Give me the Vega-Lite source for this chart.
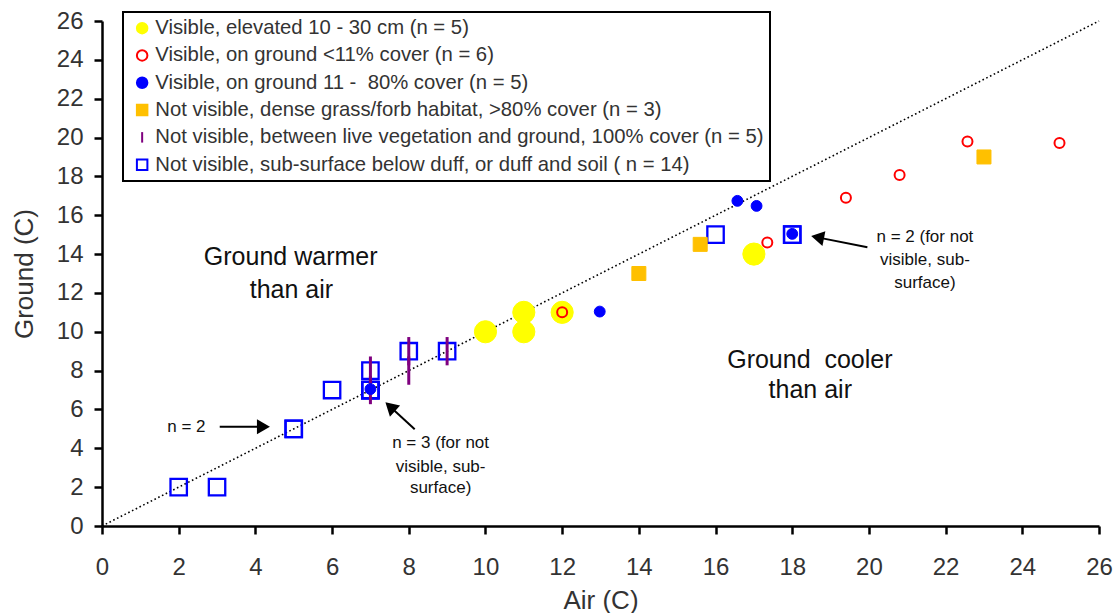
{
  "$schema": "https://vega.github.io/schema/vega-lite/v6.json",
  "width": 997,
  "height": 505,
  "autosize": {"type": "none"},
  "padding": {"left": 102, "top": 21, "right": 21, "bottom": 87},
  "background": "white",
  "config": {
    "view": {"stroke": null},
    "font": "Liberation Sans",
    "legend": {"strokeColor": "black", "strokeWidth": 2, "fillColor": "white"}
  },
  "datasets": {
    "points": [
      {"air": 2, "ground": 2, "group": "F"},
      {"air": 3, "ground": 2, "group": "F"},
      {"air": 5, "ground": 5, "group": "F"},
      {"air": 5, "ground": 5, "group": "F"},
      {"air": 6, "ground": 7, "group": "F"},
      {"air": 7, "ground": 7, "group": "F"},
      {"air": 7, "ground": 7, "group": "F"},
      {"air": 7, "ground": 7, "group": "F"},
      {"air": 7, "ground": 8, "group": "F"},
      {"air": 8, "ground": 9, "group": "F"},
      {"air": 9, "ground": 9, "group": "F"},
      {"air": 16, "ground": 15, "group": "F"},
      {"air": 18, "ground": 15, "group": "F"},
      {"air": 18, "ground": 15, "group": "F"},
      {"air": 7, "ground": 7, "group": "E"},
      {"air": 7, "ground": 8, "group": "E"},
      {"air": 8, "ground": 8, "group": "E"},
      {"air": 8, "ground": 9, "group": "E"},
      {"air": 9, "ground": 9, "group": "E"},
      {"air": 10, "ground": 10, "group": "A"},
      {"air": 11, "ground": 11, "group": "A"},
      {"air": 11, "ground": 10, "group": "A"},
      {"air": 12, "ground": 11, "group": "A"},
      {"air": 17, "ground": 14, "group": "A"},
      {"air": 14, "ground": 13, "group": "D"},
      {"air": 15.6, "ground": 14.5, "group": "D"},
      {"air": 23, "ground": 19, "group": "D"},
      {"air": 12, "ground": 11, "group": "B"},
      {"air": 17.35, "ground": 14.6, "group": "B"},
      {"air": 19.4, "ground": 16.9, "group": "B"},
      {"air": 20.8, "ground": 18.07, "group": "B"},
      {"air": 22.57, "ground": 19.8, "group": "B"},
      {"air": 24.97, "ground": 19.72, "group": "B"},
      {"air": 7, "ground": 7.05, "group": "C"},
      {"air": 12.98, "ground": 11.04, "group": "C"},
      {"air": 16.57, "ground": 16.74, "group": "C"},
      {"air": 17.07, "ground": 16.48, "group": "C"},
      {"air": 18, "ground": 15.04, "group": "C"}
    ],
    "diag": [
      {"air": 0, "ground": 0},
      {"air": 26, "ground": 26}
    ],
    "bigText": [
      {"air": 4.92, "ground": 13.85, "label": "Ground warmer"},
      {"air": 4.94, "ground": 12.15, "label": "than air"},
      {"air": 18.46, "ground": 8.55, "label": "Ground\u00a0 cooler"},
      {"air": 18.47, "ground": 7.0, "label": "than air"}
    ],
    "smallText": [
      {"air": 2.2, "ground": 5.11, "label": "n = 2"},
      {"air": 8.83, "ground": 4.27, "label": "n = 3 (for not"},
      {"air": 8.83, "ground": 3.04, "label": "visible, sub-"},
      {"air": 8.83, "ground": 1.96, "label": "surface)"},
      {"air": 21.46, "ground": 14.88, "label": "n = 2 (for not"},
      {"air": 21.46, "ground": 13.7, "label": "visible, sub-"},
      {"air": 21.46, "ground": 12.51, "label": "surface)"}
    ],
    "arrows": [
      {"air": 4.21, "ground": 5.11, "air0": 3.07, "ground0": 5.11, "angle": 0},
      {"air": 7.516, "ground": 6.14, "air0": 8.155, "ground0": 4.98, "angle": 222.6},
      {"air": 18.66, "ground": 14.86, "air0": 19.96, "ground0": 14.35, "angle": 191.2}
    ]
  },
  "encoding": {
    "x": {
      "field": "air", "type": "quantitative",
      "scale": {"domain": [0, 26], "nice": false, "zero": true},
      "axis": {
        "title": "Air (C)",
        "values": [0, 2, 4, 6, 8, 10, 12, 14, 16, 18, 20, 22, 24, 26],
        "grid": false,
        "domainColor": "black", "domainWidth": 2.5,
        "tickColor": "black", "tickWidth": 2.5, "tickSize": 8,
        "labelFontSize": 24, "labelColor": "#333", "labelPadding": 21,
        "labelFlush": false, "labelOverlap": false,
        "titleFontSize": 26, "titleColor": "#333", "titleFontWeight": "normal", "titlePadding": 8
      }
    },
    "y": {
      "field": "ground", "type": "quantitative",
      "scale": {"domain": [0, 26], "nice": false, "zero": true},
      "axis": {
        "title": "Ground (C)",
        "values": [0, 2, 4, 6, 8, 10, 12, 14, 16, 18, 20, 22, 24, 26],
        "grid": false,
        "domainColor": "black", "domainWidth": 2.5,
        "tickColor": "black", "tickWidth": 2.5, "tickSize": 8,
        "labelFontSize": 24, "labelColor": "#333", "labelPadding": 11,
        "labelFlush": false, "labelOverlap": false,
        "titleFontSize": 26, "titleColor": "#333", "titleFontWeight": "normal", "titlePadding": 19
      }
    }
  },
  "layer": [
    {
      "data": {"name": "diag"},
      "mark": {"type": "line", "color": "black", "strokeWidth": 1.6, "strokeDash": [1.6, 2.6]}
    },
    {
      "data": {"name": "points"},
      "mark": {"type": "point", "opacity": 1, "fillOpacity": 1},
      "encoding": {
        "shape": {
          "field": "group", "type": "nominal",
          "scale": {
            "domain": ["A", "B", "C", "D", "E", "F"],
            "range": ["circle", "circle", "circle", "square", "M0,-1L0,1", "square"]
          },
          "legend": {
            "title": null, "orient": "none", "legendX": 21, "legendY": -9, "direction": "vertical",
            "labelFontSize": 20.3, "labelColor": "#333", "labelLimit": 900, "labelOffset": 3,
            "symbolSize": 110, "symbolStrokeWidth": 2, "symbolOffset": 3,
            "rowPadding": 6.3, "padding": 6,
            "labelExpr": "{'A': 'Visible, elevated 10 - 30 cm (n = 5)', 'B': 'Visible, on ground <11% cover (n = 6)', 'C': 'Visible, on ground 11 -\u00a0 80% cover (n = 5)', 'D': 'Not visible, dense grass/forb habitat, >80% cover (n = 3)', 'E': 'Not visible, between live vegetation and ground, 100% cover (n = 5)', 'F': 'Not visible, sub-surface below duff, or duff and soil ( n = 14)'}[datum.value]"
          }
        },
        "fill": {
          "field": "group", "type": "nominal",
          "scale": {
            "domain": ["A", "B", "C", "D", "E", "F"],
            "range": ["#FFFF00", "transparent", "#0000FF", "#FFC000", "transparent", "transparent"]
          },
          "legend": {
            "title": null, "orient": "none", "legendX": 21, "legendY": -9, "direction": "vertical",
            "labelFontSize": 20.3, "labelColor": "#333", "labelLimit": 900, "labelOffset": 3,
            "symbolSize": 110, "symbolStrokeWidth": 2, "symbolOffset": 3,
            "rowPadding": 6.3, "padding": 6,
            "labelExpr": "{'A': 'Visible, elevated 10 - 30 cm (n = 5)', 'B': 'Visible, on ground <11% cover (n = 6)', 'C': 'Visible, on ground 11 -\u00a0 80% cover (n = 5)', 'D': 'Not visible, dense grass/forb habitat, >80% cover (n = 3)', 'E': 'Not visible, between live vegetation and ground, 100% cover (n = 5)', 'F': 'Not visible, sub-surface below duff, or duff and soil ( n = 14)'}[datum.value]"
          }
        },
        "stroke": {
          "field": "group", "type": "nominal",
          "scale": {
            "domain": ["A", "B", "C", "D", "E", "F"],
            "range": ["#FFFF00", "#FF0000", "#0000FF", "#FFC000", "#7F007F", "#0000FF"]
          },
          "legend": {
            "title": null, "orient": "none", "legendX": 21, "legendY": -9, "direction": "vertical",
            "labelFontSize": 20.3, "labelColor": "#333", "labelLimit": 900, "labelOffset": 3,
            "symbolSize": 110, "symbolStrokeWidth": 2, "symbolOffset": 3,
            "rowPadding": 6.3, "padding": 6,
            "labelExpr": "{'A': 'Visible, elevated 10 - 30 cm (n = 5)', 'B': 'Visible, on ground <11% cover (n = 6)', 'C': 'Visible, on ground 11 -\u00a0 80% cover (n = 5)', 'D': 'Not visible, dense grass/forb habitat, >80% cover (n = 3)', 'E': 'Not visible, between live vegetation and ground, 100% cover (n = 5)', 'F': 'Not visible, sub-surface below duff, or duff and soil ( n = 14)'}[datum.value]"
          }
        },
        "size": {
          "condition": [
            {"test": "datum.group === 'A'", "value": 490},
            {"test": "datum.group === 'B'", "value": 100},
            {"test": "datum.group === 'C'", "value": 118},
            {"test": "datum.group === 'D'", "value": 196},
            {"test": "datum.group === 'E'", "value": 800}
          ],
          "value": 269
        },
        "strokeWidth": {
          "condition": [
            {"test": "datum.group === 'A'", "value": 1},
            {"test": "datum.group === 'B'", "value": 2},
            {"test": "datum.group === 'C'", "value": 1},
            {"test": "datum.group === 'D'", "value": 1},
            {"test": "datum.group === 'E'", "value": 3}
          ],
          "value": 2.3
        }
      }
    },
    {
      "data": {"name": "arrows"},
      "mark": {"type": "rule", "color": "black", "strokeWidth": 2},
      "encoding": {
        "x2": {"field": "air0"},
        "y2": {"field": "ground0"}
      }
    },
    {
      "data": {"name": "arrows"},
      "mark": {"type": "point", "shape": "triangle-right", "filled": true, "color": "black", "opacity": 1, "size": 225},
      "encoding": {
        "angle": {"field": "angle", "type": "quantitative", "scale": null}
      }
    },
    {
      "data": {"name": "bigText"},
      "mark": {"type": "text", "fontSize": 25, "color": "#111", "align": "center", "baseline": "middle"},
      "encoding": {
        "text": {"field": "label", "type": "nominal"}
      }
    },
    {
      "data": {"name": "smallText"},
      "mark": {"type": "text", "fontSize": 17, "color": "#111", "align": "center", "baseline": "middle"},
      "encoding": {
        "text": {"field": "label", "type": "nominal"}
      }
    }
  ]
}
